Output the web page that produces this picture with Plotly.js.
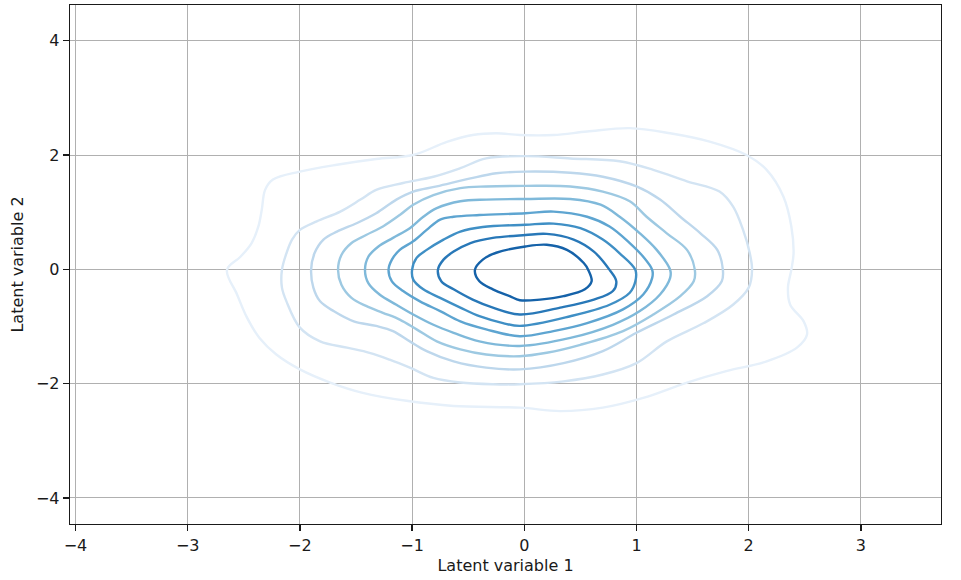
<!DOCTYPE html>
<html>
<head>
<meta charset="utf-8">
<script src="https://cdn.plot.ly/plotly-3.0.1.min.js"></script>
<style>
  body { margin: 0; background: #fff; }
  #plot { width: 961px; height: 580px; }
</style>
</head>
<body>
<div id="plot"></div>
<script>
// KDE contour levels, outermost (lowest density) to innermost
var c1x = [-2.65,-2.53,-2.43,-2.37,-2.34,-2.31,-2.24,-2.00,-1.67,-1.32,-0.99,-0.69,-0.46,-0.25,-0.04,0.26,0.56,0.94,1.30,1.66,1.98,2.16,2.31,2.38,2.40,2.38,2.35,2.37,2.49,2.52,2.43,2.16,1.80,1.45,1.06,0.70,0.32,-0.04,-0.63,-1.05,-1.44,-1.73,-2.00,-2.21,-2.36,-2.47,-2.56];
var c1y = [-0.01,0.22,0.46,0.75,1.04,1.39,1.57,1.71,1.83,1.93,2.00,2.23,2.35,2.38,2.35,2.35,2.41,2.47,2.38,2.23,2.00,1.74,1.27,0.75,0.28,-0.01,-0.32,-0.62,-0.91,-1.14,-1.37,-1.61,-1.78,-1.98,-2.25,-2.42,-2.48,-2.42,-2.39,-2.30,-2.16,-1.98,-1.75,-1.49,-1.20,-0.85,-0.44];

var c2x = [-2.16,-2.12,-2.07,-2.00,-1.85,-1.64,-1.46,-1.32,-1.08,-0.81,-0.57,-0.34,0.01,0.41,0.85,1.15,1.45,1.74,1.86,1.95,2.01,2.03,2.00,1.86,1.60,1.27,1.00,0.70,0.35,-0.04,-0.28,-0.57,-0.81,-1.02,-1.20,-1.38,-1.58,-1.82,-2.00,-2.12,-2.16];
var c2y = [-0.01,0.28,0.52,0.69,0.84,1.01,1.22,1.39,1.51,1.62,1.77,1.94,1.98,1.94,1.89,1.74,1.54,1.36,1.10,0.69,0.28,-0.01,-0.32,-0.62,-0.94,-1.26,-1.64,-1.84,-1.96,-2.01,-2.01,-1.98,-1.90,-1.72,-1.58,-1.46,-1.37,-1.26,-1.02,-0.56,-0.32];

var c3x = [-1.90,-1.87,-1.79,-1.67,-1.49,-1.32,-1.14,-0.99,-0.78,-0.48,-0.25,0.01,0.41,0.70,1.00,1.21,1.39,1.57,1.72,1.77,1.76,1.63,1.33,1.00,0.70,0.35,-0.04,-0.34,-0.63,-0.87,-1.02,-1.17,-1.32,-1.52,-1.70,-1.82,-1.88];
var c3y = [-0.01,0.28,0.52,0.66,0.81,0.98,1.22,1.36,1.45,1.59,1.68,1.71,1.69,1.62,1.45,1.22,0.92,0.63,0.34,-0.01,-0.21,-0.47,-0.79,-1.11,-1.43,-1.64,-1.75,-1.72,-1.61,-1.43,-1.26,-1.08,-0.99,-0.91,-0.73,-0.56,-0.32];

var c4x = [-1.66,-1.63,-1.54,-1.41,-1.26,-1.11,-0.99,-0.81,-0.57,-0.34,0.01,0.41,0.70,0.94,1.09,1.27,1.45,1.52,1.51,1.39,1.15,0.88,0.50,0.20,-0.04,-0.34,-0.57,-0.78,-0.96,-1.11,-1.26,-1.41,-1.54,-1.63];
var c4y = [-0.01,0.25,0.46,0.60,0.75,0.95,1.13,1.30,1.42,1.45,1.46,1.45,1.36,1.19,0.92,0.63,0.34,-0.01,-0.21,-0.47,-0.79,-1.08,-1.32,-1.46,-1.52,-1.49,-1.40,-1.26,-1.05,-0.88,-0.76,-0.64,-0.50,-0.27];

var c5x = [-1.42,-1.39,-1.30,-1.17,-1.02,-0.90,-0.78,-0.57,-0.34,0.01,0.41,0.68,0.85,1.03,1.18,1.30,1.30,1.21,1.03,0.79,0.41,-0.04,-0.40,-0.63,-0.81,-0.99,-1.14,-1.29,-1.39];
var c5y = [-0.01,0.22,0.40,0.55,0.72,0.92,1.07,1.19,1.22,1.23,1.23,1.13,0.92,0.63,0.34,-0.01,-0.15,-0.44,-0.73,-0.97,-1.20,-1.34,-1.26,-1.11,-0.97,-0.79,-0.62,-0.44,-0.24];

var c6x = [-1.21,-1.18,-1.11,-0.99,-0.87,-0.75,-0.63,-0.40,0.01,0.26,0.56,0.76,0.94,1.06,1.14,1.14,1.06,0.88,0.56,0.26,-0.04,-0.34,-0.57,-0.75,-0.93,-1.08,-1.18];
var c6y = [-0.01,0.17,0.34,0.49,0.69,0.87,0.92,0.95,0.98,1.01,0.92,0.75,0.46,0.22,-0.01,-0.15,-0.44,-0.70,-0.94,-1.08,-1.17,-1.05,-0.91,-0.73,-0.56,-0.38,-0.21];

var c7x = [-1.00,-0.96,-0.87,-0.72,-0.57,-0.37,0.01,0.26,0.50,0.70,0.85,0.99,0.99,0.94,0.76,0.41,-0.04,-0.19,-0.40,-0.57,-0.75,-0.90,-0.99];
var c7y = [-0.01,0.20,0.34,0.52,0.66,0.74,0.78,0.80,0.72,0.52,0.28,-0.01,-0.21,-0.41,-0.62,-0.82,-0.99,-0.94,-0.82,-0.67,-0.50,-0.35,-0.18];

var c8x = [-0.77,-0.72,-0.63,-0.48,-0.28,0.01,0.20,0.44,0.62,0.76,0.82,0.79,0.62,0.32,-0.04,-0.28,-0.46,-0.63,-0.74];
var c8y = [-0.01,0.17,0.31,0.46,0.55,0.60,0.62,0.52,0.31,-0.01,-0.21,-0.38,-0.53,-0.67,-0.79,-0.67,-0.53,-0.35,-0.21];

var c9x = [-0.44,-0.37,-0.25,0.01,0.20,0.38,0.53,0.57,0.60,0.54,0.35,0.14,-0.04,-0.13,-0.28,-0.40];
var c9y = [-0.01,0.17,0.29,0.40,0.43,0.34,0.11,-0.01,-0.21,-0.35,-0.47,-0.53,-0.54,-0.47,-0.35,-0.21];

// Blues, light to dark
var colors = ["#e6f0fa","#d3e4f3","#bdd7ec","#9dc9e2","#7fb9da","#5ea5d1","#3f8fc5","#2878b8","#1562a9"];

var levels = [[c1x,c1y],[c2x,c2y],[c3x,c3y],[c4x,c4y],[c5x,c5y],[c6x,c6y],[c7x,c7y],[c8x,c8y],[c9x,c9y]];

// each contour is a closed loop: repeat the first point at the end
var data = levels.map(function(l, i) {
  return {
    x: l[0].concat([l[0][0]]),
    y: l[1].concat([l[1][0]]),
    mode: "lines",
    type: "scatter",
    line: { color: colors[i], width: 2.4, shape: "spline", smoothing: 1 },
    hoverinfo: "skip",
    showlegend: false
  };
});

var axisStyle = {
  showline: true,
  mirror: true,
  linecolor: "#1a1a1a",
  linewidth: 1.3,
  ticks: "outside",
  ticklen: 6,
  tickwidth: 1.3,
  tickcolor: "#1a1a1a",
  showgrid: true,
  gridcolor: "#b0b0b0",
  gridwidth: 1,
  zeroline: false,
  tickfont: { size: 16, color: "#1a1a1a" }
};

var layout = {
  width: 961,
  height: 580,
  margin: { l: 70, r: 20, t: 5, b: 56 },
  paper_bgcolor: "#fff",
  plot_bgcolor: "#fff",
  font: { family: "DejaVu Sans, sans-serif", size: 16, color: "#1a1a1a" },
  xaxis: Object.assign({}, axisStyle, {
    range: [-4.049, 3.714],
    dtick: 1,
    title: { text: "Latent variable 1", font: { size: 16 }, standoff: 6 }
  }),
  yaxis: Object.assign({}, axisStyle, {
    range: [-4.455, 4.624],
    dtick: 2,
    title: { text: "Latent variable 2", font: { size: 16 }, standoff: 8 }
  })
};

Plotly.newPlot("plot", data, layout, { staticPlot: true });
</script>
</body>
</html>
